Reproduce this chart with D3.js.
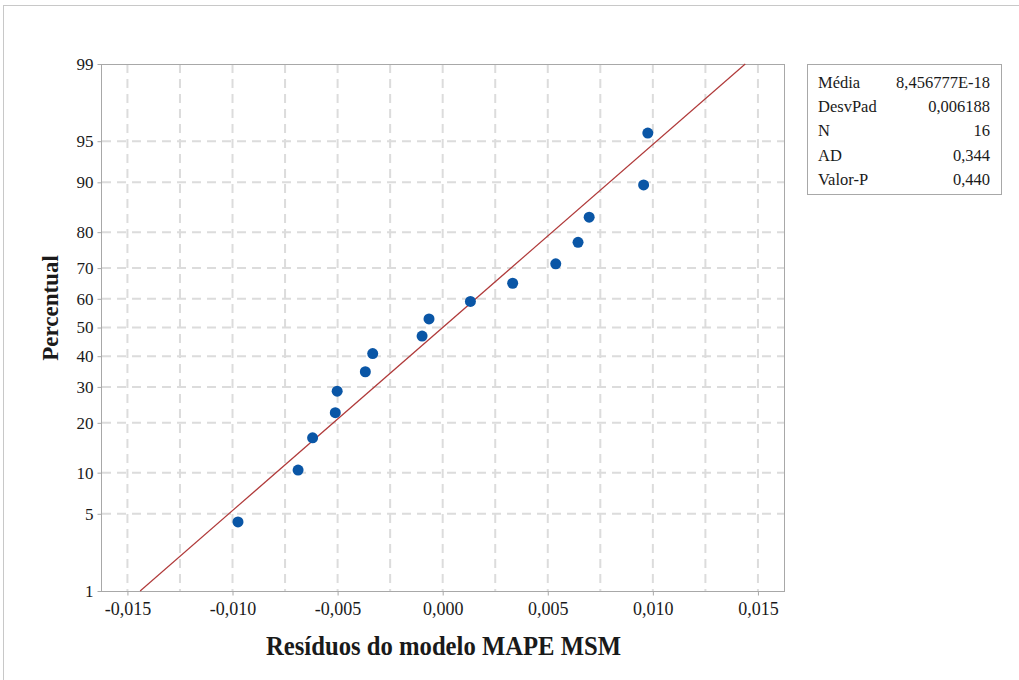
<!DOCTYPE html>
<html>
<head>
<meta charset="utf-8">
<script src="https://cdn.jsdelivr.net/npm/d3@7"></script>
<style>
  body { margin: 0; background: #fff; }
  svg { display: block; }
  text { font-family: "Liberation Serif", "Times New Roman", serif; fill: #1a1a1a; }
</style>
</head>
<body>
<script>
// residuals, sorted
var residuos = [-0.00974, -0.00688, -0.00619, -0.00511, -0.00502, -0.00368, -0.00333, -0.00098,
                -0.00065, 0.00132, 0.00333, 0.00538, 0.00644, 0.00697, 0.00956, 0.00976];
// plotted percentiles (%)
var percentual = [4.3, 10.4, 16.5, 22.6, 28.7, 34.8, 40.9, 47.0, 53.0, 59.1, 65.2, 71.3, 77.4, 83.5, 89.6, 95.7];

var xTicks = [-0.015, -0.010, -0.005, 0.000, 0.005, 0.010, 0.015];
var xGrid = [-0.015, -0.0125, -0.010, -0.0075, -0.005, -0.0025, 0, 0.0025, 0.005, 0.0075, 0.010, 0.0125, 0.015];
var yTicks = [1, 5, 10, 20, 30, 40, 50, 60, 70, 80, 90, 95, 99];

var statLabels = ["Média", "DesvPad", "N", "AD", "Valor-P"];
var statValues = ["8,456777E-18", "0,006188", "16", "0,344", "0,440"];
var media = 8.456777e-18, desvPad = 0.006188;

// inverse normal cdf (Acklam)
function qnorm(p) {
    var a = [-3.969683028665376e+01, 2.209460984245205e+02, -2.759285104469687e+02, 1.383577518672690e+02, -3.066479806614716e+01, 2.506628277459239e+00];
    var b = [-5.447609879822406e+01, 1.615858368580409e+02, -1.556989798598866e+02, 6.680131188771972e+01, -1.328068155288572e+01];
    var c = [-7.784894002430293e-03, -3.223964580411365e-01, -2.400758277161838e+00, -2.549671010115604e+00, 4.374664141464968e+00, 2.938163982698783e+00];
    var d = [7.784695709041462e-03, 3.224671290700398e-01, 2.445134137142996e+00, 3.754408661907416e+00];
    var pl = 0.02425, q, r;
    if (p < pl) {
        q = Math.sqrt(-2 * Math.log(p));
        return (((((c[0]*q+c[1])*q+c[2])*q+c[3])*q+c[4])*q+c[5]) / ((((d[0]*q+d[1])*q+d[2])*q+d[3])*q+1);
    } else if (p <= 1 - pl) {
        q = p - 0.5; r = q * q;
        return (((((a[0]*r+a[1])*r+a[2])*r+a[3])*r+a[4])*r+a[5])*q / (((((b[0]*r+b[1])*r+b[2])*r+b[3])*r+b[4])*r+1);
    } else {
        q = Math.sqrt(-2 * Math.log(1 - p));
        return -(((((c[0]*q+c[1])*q+c[2])*q+c[3])*q+c[4])*q+c[5]) / ((((d[0]*q+d[1])*q+d[2])*q+d[3])*q+1);
    }
}

(function () {
    var w = 1019, h = 680;
    var pL = 102, pR = 784, pT = 64, pB = 591;

    var svg = d3.select("body").append("svg")
        .attr("width", w)
        .attr("height", h);

    // outer border
    svg.append("rect")
        .attr("x", 3.5).attr("y", 5.5)
        .attr("width", w + 10).attr("height", h + 10)
        .attr("fill", "none").attr("stroke", "#c8c8c8");

    var x = d3.scaleLinear().domain([-0.01621, 0.01624]).range([pL, pR]);
    var y = d3.scaleLinear().domain([qnorm(0.01), qnorm(0.99)]).range([pB, pT]);

    var fmt = function (d) { return d3.format(".3f")(d).replace("\u2212", "-").replace(".", ","); };

    // grid
    var grid = svg.append("g")
        .attr("stroke", "#dcdcdc")
        .attr("stroke-width", 2)
        .attr("stroke-dasharray", "9,6");
    grid.selectAll(".vg").data(xGrid).enter().append("line")
        .attr("x1", function (d) { return x(d); }).attr("x2", function (d) { return x(d); })
        .attr("y1", pT).attr("y2", pB);
    grid.selectAll(".hg").data(yTicks.slice(1, -1)).enter().append("line")
        .attr("x1", pL).attr("x2", pR)
        .attr("y1", function (d) { return y(qnorm(d / 100)); })
        .attr("y2", function (d) { return y(qnorm(d / 100)); });

    // frame
    svg.append("rect")
        .attr("x", pL - 0.5).attr("y", pT + 0.5)
        .attr("width", pR - pL + 1).attr("height", pB - pT)
        .attr("fill", "none").attr("stroke", "#a8a8a8");

    // axes
    var xAxis = svg.append("g")
        .attr("transform", "translate(0," + (pB + 0.5) + ")")
        .call(d3.axisBottom(x).tickValues(xTicks).tickFormat(fmt).tickSize(4).tickSizeOuter(0));
    var yAxis = svg.append("g")
        .attr("transform", "translate(" + (pL - 0.5) + ",0)")
        .call(d3.axisLeft(y).tickValues(yTicks.map(function (p) { return qnorm(p / 100); }))
            .tickFormat(function (d, i) { return yTicks[i]; }).tickSize(4).tickSizeOuter(0));
    [xAxis, yAxis].forEach(function (g) {
        g.select(".domain").remove();
        g.selectAll(".tick line").attr("stroke", "#a8a8a8");
        g.selectAll(".tick text").attr("fill", "#111")
            .style("font-family", "'Liberation Serif', serif");
    });
    xAxis.selectAll(".tick text").style("font-size", "18px").attr("y", 11);
    yAxis.selectAll(".tick text").style("font-size", "17px").attr("x", -8);

    // fitted line
    var pLine = [0.01, 0.99];
    svg.append("line")
        .attr("x1", x(media + desvPad * qnorm(pLine[0])))
        .attr("y1", y(qnorm(pLine[0])))
        .attr("x2", x(media + desvPad * qnorm(pLine[1])))
        .attr("y2", y(qnorm(pLine[1])))
        .attr("stroke", "#b03a3a")
        .attr("stroke-width", 1.2);

    // points
    svg.selectAll(".pt").data(residuos).enter().append("circle")
        .attr("cx", function (d) { return x(d); })
        .attr("cy", function (d, i) { return y(qnorm(percentual[i] / 100)); })
        .attr("r", 5.5)
        .attr("fill", "#0a56a6");

    // axis titles
    svg.append("text")
        .attr("x", 443.5).attr("y", 655)
        .attr("text-anchor", "middle")
        .attr("textLength", 355).attr("lengthAdjust", "spacingAndGlyphs")
        .style("font-size", "27px").style("font-weight", "bold")
        .text("Resíduos do modelo MAPE MSM");
    svg.append("text")
        .attr("transform", "translate(58,308) rotate(-90)")
        .attr("text-anchor", "middle")
        .style("font-size", "23px").style("font-weight", "bold")
        .text("Percentual");

    // stats box
    var box = svg.append("g");
    box.append("rect")
        .attr("x", 807.5).attr("y", 64.5)
        .attr("width", 194).attr("height", 130)
        .attr("fill", "#fff").attr("stroke", "#a8a8a8");
    box.selectAll(".sl").data(statLabels).enter().append("text")
        .attr("x", 818)
        .attr("y", function (d, i) { return 87.5 + i * 24.4; })
        .style("font-size", "16.5px")
        .text(function (d) { return d; });
    box.selectAll(".sv").data(statValues).enter().append("text")
        .attr("x", 990)
        .attr("y", function (d, i) { return 87.5 + i * 24.4; })
        .attr("text-anchor", "end")
        .style("font-size", "16.5px")
        .text(function (d) { return d; });
})();
</script>
</body>
</html>
